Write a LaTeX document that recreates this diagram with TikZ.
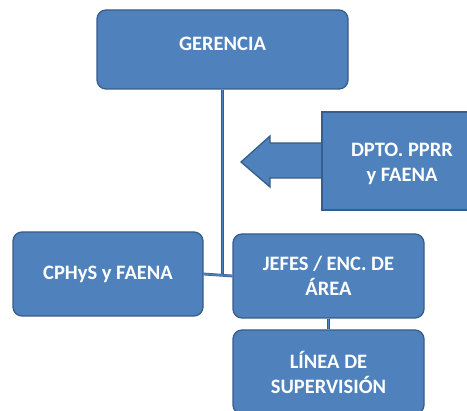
\documentclass[tikz,border=0pt]{standalone}
\usepackage{fontspec}
\setmainfont{Carlito}
\definecolor{boxfill}{HTML}{4F81BD}
\definecolor{boxedge}{HTML}{385D8A}
\begin{document}
\begin{tikzpicture}[x=1pt,y=-1pt,
  lbl/.style={text=white, font=\fontsize{20.5}{25}\selectfont\bfseries, align=center},
  box/.style={draw=boxedge, line width=1.3pt, fill=boxfill, rounded corners=9pt,
    lbl, inner sep=0pt},
  conn/.style={draw=boxedge, line width=0.6pt, double=boxfill, double distance=1.6pt}]
\useasboundingbox (0,0) rectangle (467,411);
\clip (0,0) rectangle (467,411);
\fill[white] (0,0) rectangle (467,411);
% boxes
\node[box, minimum width=251pt, minimum height=79pt] (ger) at (222.5,49.5) {};
\node[lbl] (gert) at (222.5,44) {GERENCIA};
\node[box, minimum width=190pt, minimum height=84pt] (cph) at (108,274) {CPHyS y FAENA};
\node[box, minimum width=191pt, minimum height=84pt] (jef) at (328.5,276) {JEFES / ENC. DE\\ÁREA};
\node[box, minimum width=191pt, minimum height=84pt] (lin) at (328.5,372) {LÍNEA DE\\SUPERVISIÓN};
% connectors
\coordinate (mid) at (ger.south |- cph.east);
\draw[conn] (ger.south) -- (mid);
\draw[conn] (cph.east) -- (jef.west);
\draw[conn] (jef.south) -- (lin.north);
% arrow + DPTO box
\draw[draw=boxedge, line width=1.3pt, fill=boxfill, line join=miter]
  (330,143) -- (270,143) -- (270,136) -- (241,162) -- (270,187) -- (270,178) -- (330,178);
\node[draw=boxedge, line width=1.3pt, fill=boxfill, minimum width=153pt, minimum height=98pt,
  inner sep=0pt] (dpto) at (398.5,161) {};
\node[lbl] (dptot) at (402,164) {DPTO. PPRR\\y FAENA};
\end{tikzpicture}
\end{document}
